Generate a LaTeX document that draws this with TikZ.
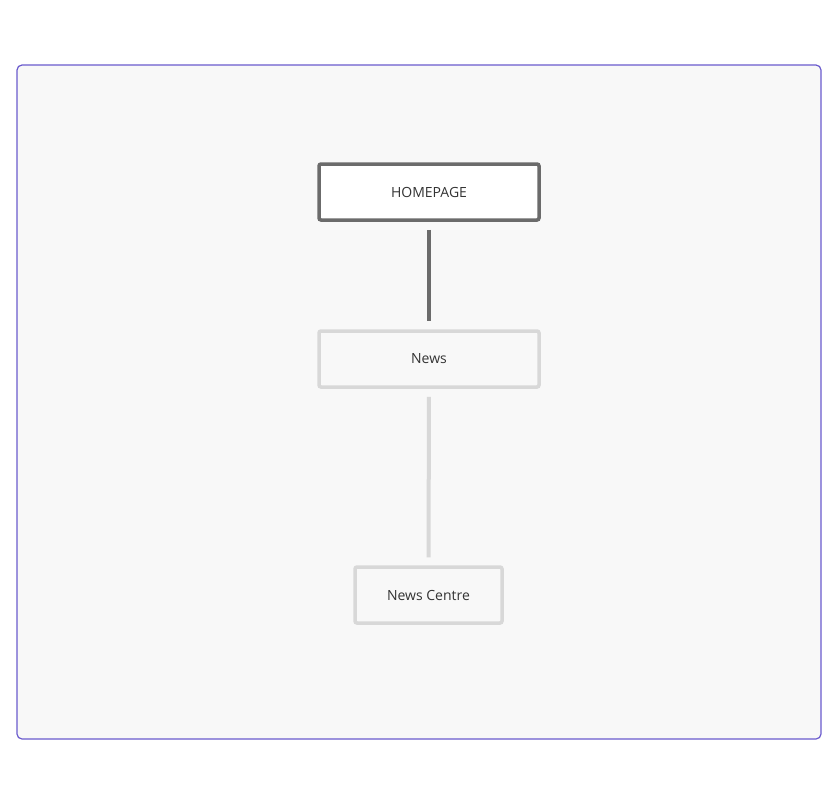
\documentclass[tikz,border=0pt]{standalone}
\usepackage{fontspec}
\setmainfont{Open Sans}
\definecolor{frame}{HTML}{6A5ACD}
\definecolor{bg}{HTML}{F8F8F8}
\definecolor{dark}{HTML}{6B6B6B}
\definecolor{light}{HTML}{D8D8D8}
\definecolor{txt}{HTML}{333333}
\begin{document}
\begin{tikzpicture}[x=1pt,y=-1pt,
  box/.style={draw, line width=3.5pt, rounded corners=2pt, minimum height=56pt, inner sep=0pt, font=\fontsize{14}{16}\selectfont, text=txt},
  link/.style={line width=4pt, shorten >=8pt, shorten <=8pt}]
\useasboundingbox (0,0) rectangle (838,804);
\draw[frame, fill=bg, line width=1.2pt, rounded corners=5pt] (17,65) rectangle (821,739);
\node[box, draw=dark, fill=white, minimum width=220pt] (home) at (429,192) {HOMEPAGE};
\node[box, draw=light, fill=bg, minimum width=220pt] (news) at (429,359) {News};
\node[box, draw=light, fill=bg, minimum width=147pt] (centre) at (428.5,595) {News Centre};
\draw[link, dark] (home) -- (news);
\draw[link, light] (news) -- (centre);
\end{tikzpicture}
\end{document}
